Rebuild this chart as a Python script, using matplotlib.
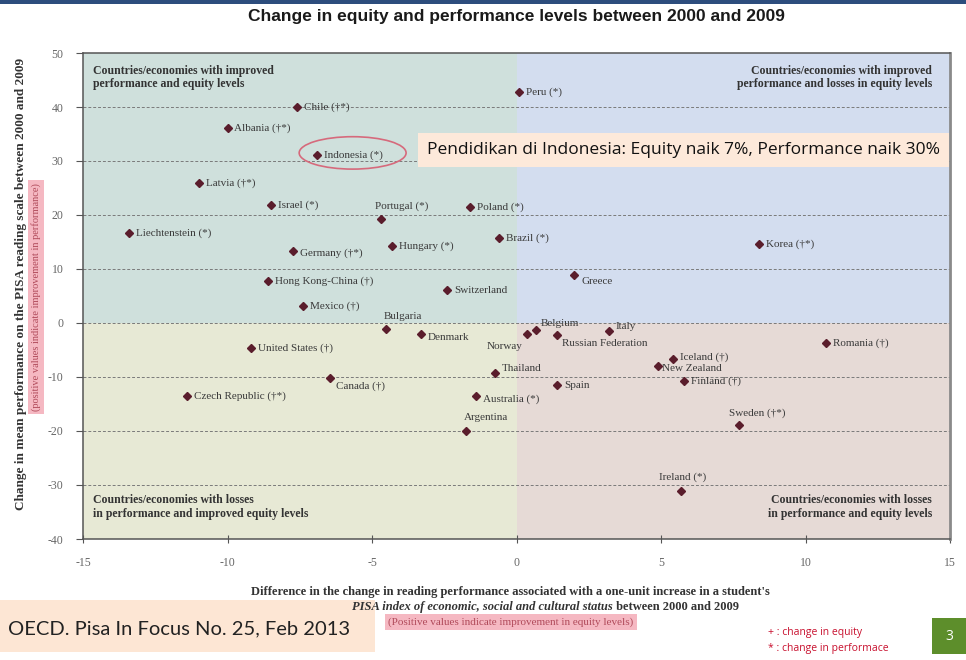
import matplotlib
matplotlib.use("Agg")
import matplotlib.pyplot as plt
from matplotlib.patches import Rectangle, Ellipse

plt.rcParams['axes.unicode_minus'] = False

# ---- data ----
countries = ['Peru (*)', 'Chile (\u2020*)', 'Albania (\u2020*)', 'Indonesia (*)', 'Latvia (\u2020*)',
             'Israel (*)', 'Portugal (*)', 'Poland (*)', 'Liechtenstein (*)', 'Germany (\u2020*)',
             'Hungary (*)', 'Brazil (*)', 'Korea (\u2020*)', 'Hong Kong-China (\u2020)', 'Switzerland',
             'Greece', 'Mexico (\u2020)', 'Bulgaria', 'Denmark', 'Norway', 'Belgium',
             'Russian Federation', 'Italy', 'Romania (\u2020)', 'United States (\u2020)',
             'Iceland (\u2020)', 'New Zealand', 'Finland (\u2020)', 'Thailand', 'Spain',
             'Canada (\u2020)', 'Czech Republic (\u2020*)', 'Australia (*)', 'Argentina',
             'Sweden (\u2020*)', 'Ireland (*)']
equity = [0.1, -7.6, -10.0, -6.9, -11.0,
          -8.5, -4.7, -1.6, -13.4, -7.75,
          -4.3, -0.6, 8.4, -8.6, -2.4,
          2.0, -7.4, -4.5, -3.3, 0.35, 0.66,
          1.4, 3.2, 10.7, -9.2,
          5.4, 4.9, 5.8, -0.75, 1.4,
          -6.45, -11.4, -1.4, -1.75,
          7.7, 5.7]
performance = [42.8, 40.0, 36.1, 31.1, 25.9,
               21.8, 19.3, 21.5, 16.7, 13.3,
               14.3, 15.7, 14.6, 7.8, 6.1,
               8.9, 3.2, -1.2, -2.0, -2.0, -1.3,
               -2.2, -1.5, -3.7, -4.6,
               -6.7, -7.9, -10.7, -9.3, -11.5,
               -10.2, -13.5, -13.5, -20.0,
               -18.9, -31.1]
xticks = [-15, -10, -5, 0, 5, 10, 15]
yticks = [-40, -30, -20, -10, 0, 10, 20, 30, 40, 50]

# label placement (pixel offsets from marker), default is right of the marker
label_pos = {
    'Portugal (*)': (-6, 13, 'left'),
    'Germany (\u2020*)': (7, -2, 'left'),
    'Greece': (7, -7, 'left'),
    'Bulgaria': (-3, 13, 'left'),
    'Denmark': (7, -4, 'left'),
    'Norway': (-4, -13, 'right'),
    'Belgium': (5, 7, 'left'),
    'Russian Federation': (5, -9, 'left'),
    'Italy': (7, 5, 'left'),
    'Canada (\u2020)': (6, -8, 'left'),
    'Thailand': (7, 5, 'left'),
    'Australia (*)': (7, -3, 'left'),
    'Argentina': (-2, 13, 'left'),
    'New Zealand': (4, -3, 'left'),
    'Iceland (\u2020)': (7, 2, 'left'),
    'Sweden (\u2020*)': (-10, 12, 'left'),
    'Ireland (*)': (-22, 14, 'left'),
}

W, H = 966, 660
serif = 'Liberation Serif'


def fpos(x, y):
    # pixel position -> figure fraction
    return x / W, 1 - y / H


fig = plt.figure(figsize=(W / 100, H / 100), dpi=100)
fig.patch.set_facecolor('white')
ax = fig.add_axes([83 / W, 1 - 539 / H, 867 / W, 486 / H])
ax.set_xlim(-15, 15)
ax.set_ylim(-40, 50)

# quadrant backgrounds
ax.add_patch(Rectangle((-15, 0), 15, 50, facecolor='#cfe0dc', edgecolor='none', zorder=0))
ax.add_patch(Rectangle((0, 0), 15, 50, facecolor='#d3ddef', edgecolor='none', zorder=0))
ax.add_patch(Rectangle((-15, -40), 15, 40, facecolor='#e7e9d5', edgecolor='none', zorder=0))
ax.add_patch(Rectangle((0, -40), 15, 40, facecolor='#e6dad6', edgecolor='none', zorder=0))

for yv in yticks[1:-1]:
    ax.axhline(yv, color='#7a7a7a', lw=0.7, ls=(0, (3, 2)), zorder=1)

ax.plot(equity, performance, 'D', ms=4, color='#5a1d2c', zorder=3)
for name, xv, yv in zip(countries, equity, performance):
    dx, dy, ha = label_pos.get(name, (7, 0, 'left'))
    ax.annotate(name, (xv, yv), xytext=(dx, dy), textcoords='offset pixels',
                ha=ha, va='center', fontsize=8, family=serif, color='#3a3a3a', zorder=4)

# quadrant captions
qkw = dict(fontsize=8.5, family=serif, fontweight='bold', color='#333333', linespacing=1.15)
ax.text(0.012, 0.975, 'Countries/economies with improved\nperformance and equity levels',
        transform=ax.transAxes, ha='left', va='top', **qkw)
ax.text(0.979, 0.975, 'Countries/economies with improved\nperformance and losses in equity levels',
        transform=ax.transAxes, ha='right', va='top', multialignment='right', **qkw)
ax.text(0.012, 0.04, 'Countries/economies with losses\nin performance and improved equity levels',
        transform=ax.transAxes, ha='left', va='bottom', **qkw)
ax.text(0.979, 0.04, 'Countries/economies with losses\nin performance and equity levels',
        transform=ax.transAxes, ha='right', va='bottom', multialignment='right', **qkw)

# Indonesia highlight
ax.add_patch(Ellipse((-5.67, 31.5), 3.7, 6.0, facecolor='none', edgecolor='#d66a7c', lw=1.2, zorder=5))

ax.set_xticks(xticks)
ax.set_yticks(yticks)
ax.tick_params(axis='x', direction='inout', length=6, pad=10, labelsize=8.5, labelcolor='#666666', colors='#555555')
ax.tick_params(axis='y', direction='out', length=5, pad=9, labelsize=8.5, labelcolor='#666666', colors='#555555')
for lab in ax.get_xticklabels() + ax.get_yticklabels():
    lab.set_family(serif)
for side in ['left', 'bottom', 'top']:
    ax.spines[side].set_color('#555555')
    ax.spines[side].set_linewidth(1.1)
ax.spines['right'].set_color('#8a8a8a')
ax.spines['right'].set_linewidth(2)

# title and top bar
fig.patches.append(Rectangle((0, 1 - 4 / H), 1, 4 / H, transform=fig.transFigure,
                             facecolor='#2d4d7d', edgecolor='none'))
fig.text(*fpos(516, 16), 'Change in equity and performance levels between 2000 and 2009',
         ha='center', va='center', fontsize=12.5, family='Liberation Sans', fontweight='bold', color='#1a1a1a')

# y axis label
fig.text(*fpos(21, 284), 'Change in mean performance on the PISA reading scale between 2000 and 2009',
         rotation=90, ha='center', va='center', fontsize=9.5, family=serif, fontweight='bold', color='#333333')
fig.text(*fpos(36, 297), '(positive values indicate improvement in performance)',
         rotation=90, ha='center', va='center', fontsize=7.5, family=serif, color='#b04a5a',
         bbox=dict(boxstyle='square,pad=0.3', facecolor='#f5b8c2', edgecolor='none'))

# x axis label
fig.text(*fpos(510, 592), "Difference in the change in reading performance associated with a one-unit increase in a student's",
         ha='center', va='center', fontsize=9, family=serif, fontweight='bold', color='#333333')
t1 = fig.text(*fpos(352, 607), 'PISA index of economic, social and cultural status',
              ha='left', va='center', fontsize=9, family=serif, fontweight='bold', style='italic', color='#333333')
ax.annotate(' between 2000 and 2009', xy=(1, 0.5), xycoords=t1, ha='left', va='center',
            fontsize=9, family=serif, fontweight='bold', color='#333333')
fig.text(*fpos(511, 622), '(Positive values indicate improvement in equity levels)',
         ha='center', va='center', fontsize=8, family=serif, color='#b04a5a',
         bbox=dict(boxstyle='square,pad=0.3', facecolor='#f5b8c2', edgecolor='none'))

# annotation box
fig.text(*fpos(427, 150), 'Pendidikan di Indonesia: Equity naik 7%, Performance naik 30%',
         ha='left', va='center', fontsize=12.5, family='Open Sans', color='#111111',
         bbox=dict(boxstyle='square,pad=0.5', facecolor='#fde9da', edgecolor='none'))

# source box
fig.patches.append(Rectangle(fpos(0, 652), 375 / W, 52 / H, transform=fig.transFigure,
                             facecolor='#fde6d4', edgecolor='none'))
fig.text(*fpos(8, 629), 'OECD. Pisa In Focus No. 25, Feb 2013', ha='left', va='center',
         fontsize=14.5, family='Lato', color='#222222')

# symbol legend
fig.text(*fpos(768, 633), '+ : change in equity', ha='left', va='center', fontsize=7.5,
         family='Open Sans', color='#c8102e')
fig.text(*fpos(768, 648), '* : change in performace', ha='left', va='center', fontsize=7.5,
         family='Open Sans', color='#c8102e')

# slide number
fig.patches.append(Rectangle(fpos(932, 654), 34 / W, 36 / H, transform=fig.transFigure,
                             facecolor='#5d8e2b', edgecolor='none'))
fig.text(*fpos(949, 636), '3', ha='center', va='center', fontsize=10, family='Open Sans', color='white')

fig.savefig('out.png', dpi=100)
